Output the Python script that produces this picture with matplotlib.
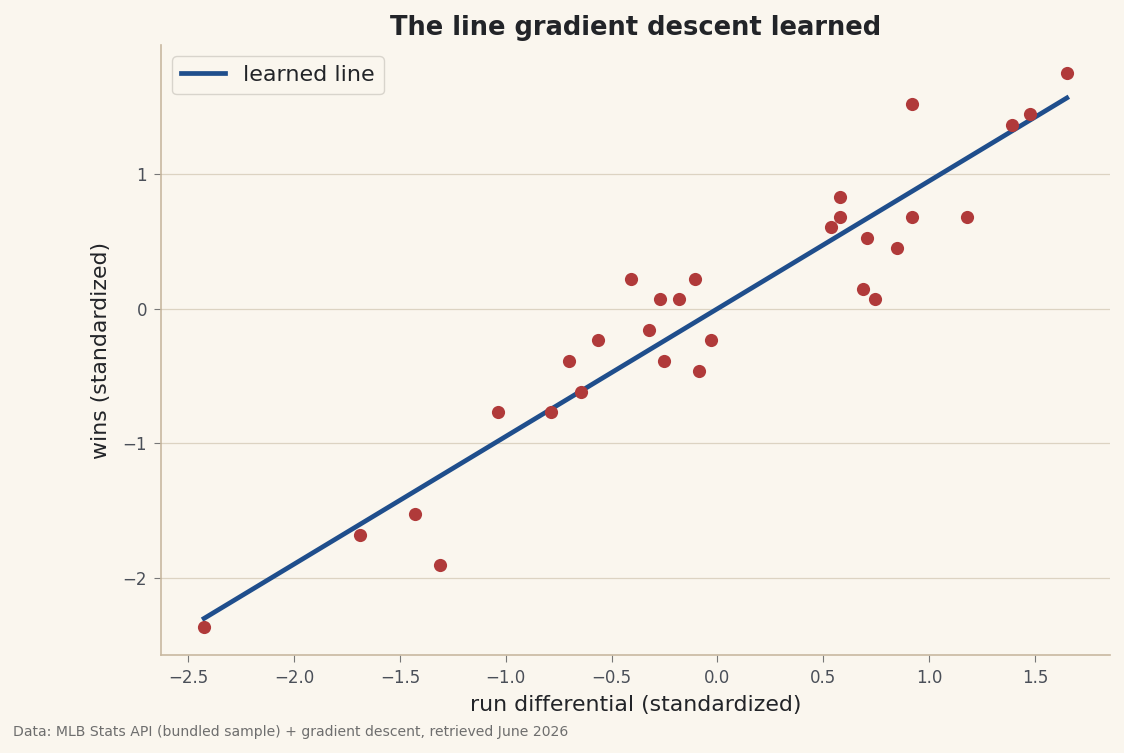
import numpy as np
import matplotlib
matplotlib.use("Agg")
import matplotlib.pyplot as plt

run_diff = [-2.425, -1.688, -1.428, -1.310, -1.036, -0.786, -0.701, -0.644, -0.564,
            -0.408, -0.323, -0.271, -0.252, -0.181, -0.106, -0.087, -0.030,
            0.536, 0.578, 0.578, 0.687, 0.706, 0.744, 0.847, 0.918, 0.918,
            1.178, 1.390, 1.475, 1.650]
wins = [-2.368, -1.678, -1.529, -1.908, -0.765, -0.765, -0.386, -0.616, -0.230,
        0.223, -0.156, 0.074, -0.386, 0.074, 0.223, -0.460, -0.230,
        0.609, 0.831, 0.683, 0.148, 0.527, 0.074, 0.453, 1.522, 0.683,
        0.683, 1.366, 1.448, 1.752]
slope = 0.949
intercept = -0.0

bg = "#FAF6EE"
fig = plt.figure(figsize=(11.24, 7.53), dpi=100, facecolor=bg)
ax = fig.add_axes([0.1432, 0.130, 0.8443, 0.810])
ax.set_facecolor(bg)

x = np.array(run_diff)
ax.scatter(x, wins, s=90, color="#B03A3A", zorder=3, linewidths=0)
xl = np.array([x.min(), x.max()])
ax.plot(xl, slope * xl + intercept, color="#1F4E8C", lw=3.4, label="learned line", zorder=2)

ax.set_title("The line gradient descent learned", fontsize=18.5, fontweight="bold", color="#222428", pad=7)
ax.set_xlabel("run differential (standardized)", fontsize=15.8, color="#222428", labelpad=6)
ax.set_ylabel("wins (standardized)", fontsize=15.8, color="#222428", labelpad=8)
ax.tick_params(labelsize=12, labelcolor="#4A4F58", length=5, color="#777777", pad=5)
ax.grid(axis="y", color="#DCD3C2", lw=0.9)
ax.set_axisbelow(True)
for s in ["top", "right"]:
    ax.spines[s].set_visible(False)
for s in ["left", "bottom"]:
    ax.spines[s].set_color("#C8B8A0")
    ax.spines[s].set_linewidth(1.2)
ax.set_yticks([-2, -1, 0, 1])
leg = ax.legend(loc="upper left", fontsize=16, frameon=True, facecolor=bg, edgecolor="#D0CCC4")
for t in leg.get_texts():
    t.set_color("#222428")

fig.text(0.012, 0.023, "Data: MLB Stats API (bundled sample) + gradient descent, retrieved June 2026",
         fontsize=10.1, color="#6E6E6E")
fig.savefig("out.png", dpi=100, facecolor=bg)
